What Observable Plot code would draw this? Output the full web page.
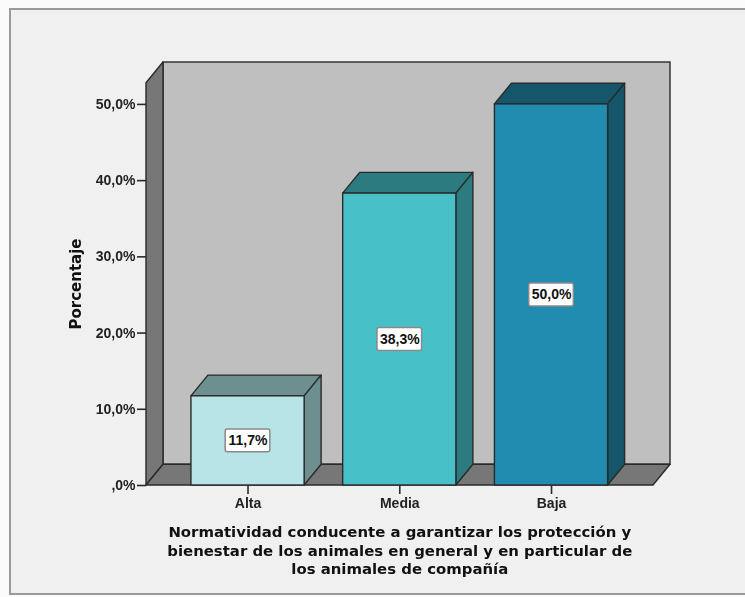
<!DOCTYPE html>
<html><head><meta charset="utf-8">
<script src="https://cdn.jsdelivr.net/npm/d3@7"></script>
<script src="https://cdn.jsdelivr.net/npm/@observablehq/plot@0.6"></script>
<style>
html,body{margin:0;padding:0;background:#fbfbfb;width:745px;height:597px;overflow:hidden}
#panel{position:absolute;left:9px;top:8px;width:736px;height:587px;box-sizing:border-box;background:#f0f0f0;border:2px solid #9a9a9a;border-right:none}
#chart{position:absolute;left:0;top:0}
#chart svg{filter:blur(.7px)}
</style></head><body>
<div id="panel"></div><div id="chart"></div>
<script>
const categories = ["Alta", "Media", "Baja"];
const values = [11.7, 38.3, 50.0];
const valueLabels = ["11,7%", "38,3%", "50,0%"];
const yTicks = [0, 10, 20, 30, 40, 50];
const yTickLabels = [",0%", "10,0%", "20,0%", "30,0%", "40,0%", "50,0%"];
const frontColors = ["#b8e3e7", "#48c0c8", "#228bb0"];
const depthColors = ["#6e8f8f", "#2b7b80", "#15566b"];
const axisTitle = ["Normatividad conducente a garantizar los protección y",
  "bienestar de los animales en general y en particular de",
  "los animales de compañía"];

// scale units: one category step on x, percent on y
const xLo = -0.669, xHi = 2.784, yHi = 55.5;
const dX = 0.112, dY = 2.72, half = 0.373;
const ink = "#2a2a2a", wall = "#bfbfbf", side = "#777777";
const font = "'Liberation Sans', Arial, sans-serif";
const wide = "'DejaVu Sans', Verdana, sans-serif";

const bar = (v, i) => {
  const l = i - half, r = i + half;
  return [
    Plot.areaX([{y: v, x1: l, x2: r}, {y: v + dY, x1: l + dX, x2: r + dX}],
      {y: "y", x1: "x1", x2: "x2", fill: depthColors[i], stroke: ink, strokeWidth: 1.4}),
    Plot.areaY([{x: r, y1: 0, y2: v}, {x: r + dX, y1: dY, y2: v + dY}],
      {x: "x", y1: "y1", y2: "y2", fill: depthColors[i], stroke: ink, strokeWidth: 1.4}),
    Plot.rect([{x1: l, x2: r, y1: 0, y2: v}],
      {x1: "x1", x2: "x2", y1: "y1", y2: "y2", fill: frontColors[i], stroke: ink, strokeWidth: 1.4})
  ];
};

const labelBoxes = values.map((v, i) => ({
  x1: i - 0.147, x2: i + 0.147, y1: v / 2 - 1.5, y2: v / 2 + 1.5
}));
const labelPts = values.map((v, i) => ({x: i, y: v / 2, t: valueLabels[i]}));

const chart = Plot.plot({
  width: 745, height: 597,
  marginLeft: 146, marginRight: 75, marginTop: 62, marginBottom: 112,
  x: {type: "linear", domain: [xLo, xHi]},
  y: {domain: [0, yHi]},
  style: {background: "transparent", fontFamily: font, fontWeight: "bold", fontSize: "14px", color: "#222"},
  marks: [
    // back wall
    Plot.rect([{x1: xLo + dX, x2: xHi, y1: dY, y2: yHi}],
      {x1: "x1", x2: "x2", y1: "y1", y2: "y2", fill: wall, stroke: ink, strokeWidth: 1.4}),
    // left wall
    Plot.areaY([{x: xLo, y1: 0, y2: yHi - dY}, {x: xLo + dX, y1: dY, y2: yHi}],
      {x: "x", y1: "y1", y2: "y2", fill: side, stroke: ink, strokeWidth: 1.4}),
    // floor
    Plot.areaX([{y: 0, x1: xLo, x2: xHi - dX}, {y: dY, x1: xLo + dX, x2: xHi}],
      {y: "y", x1: "x1", x2: "x2", fill: side, stroke: ink, strokeWidth: 1.4}),
    values.flatMap(bar),
    Plot.rect(labelBoxes, {x1: "x1", x2: "x2", y1: "y1", y2: "y2", fill: "#fff", stroke: "#8a8a8a", strokeWidth: 1.5, rx: 2}),
    Plot.text(labelPts, {x: "x", y: "y", text: "t", fill: "#111", fontWeight: "bold", fontSize: 14}),
    Plot.axisY({ticks: yTicks, tickFormat: d => yTickLabels[yTicks.indexOf(d)], tickSize: 9, tickPadding: 2, label: null, stroke: ink, fill: "#222", strokeWidth: 1.6}),
    Plot.axisX({ticks: [0, 1, 2], tickFormat: i => categories[i], tickSize: 9, tickPadding: 4, label: null, stroke: ink, fill: "#222", strokeWidth: 1.6}),
    Plot.text(["Porcentaje"], {frameAnchor: "left", textAnchor: "middle", dx: -70, dy: 10, rotate: -90, text: d => d, fontFamily: wide, fontSize: 15, fontWeight: "bold", fill: "#111"}),
    axisTitle.map((t, k) => Plot.text([t], {x: 1, y: 0, text: d => d, dy: [47, 65.5, 84][k], fontFamily: wide, fontSize: 14.9, fontWeight: "bold", fill: "#111"}))
  ]
});
document.getElementById("chart").append(chart);
</script></body></html>
